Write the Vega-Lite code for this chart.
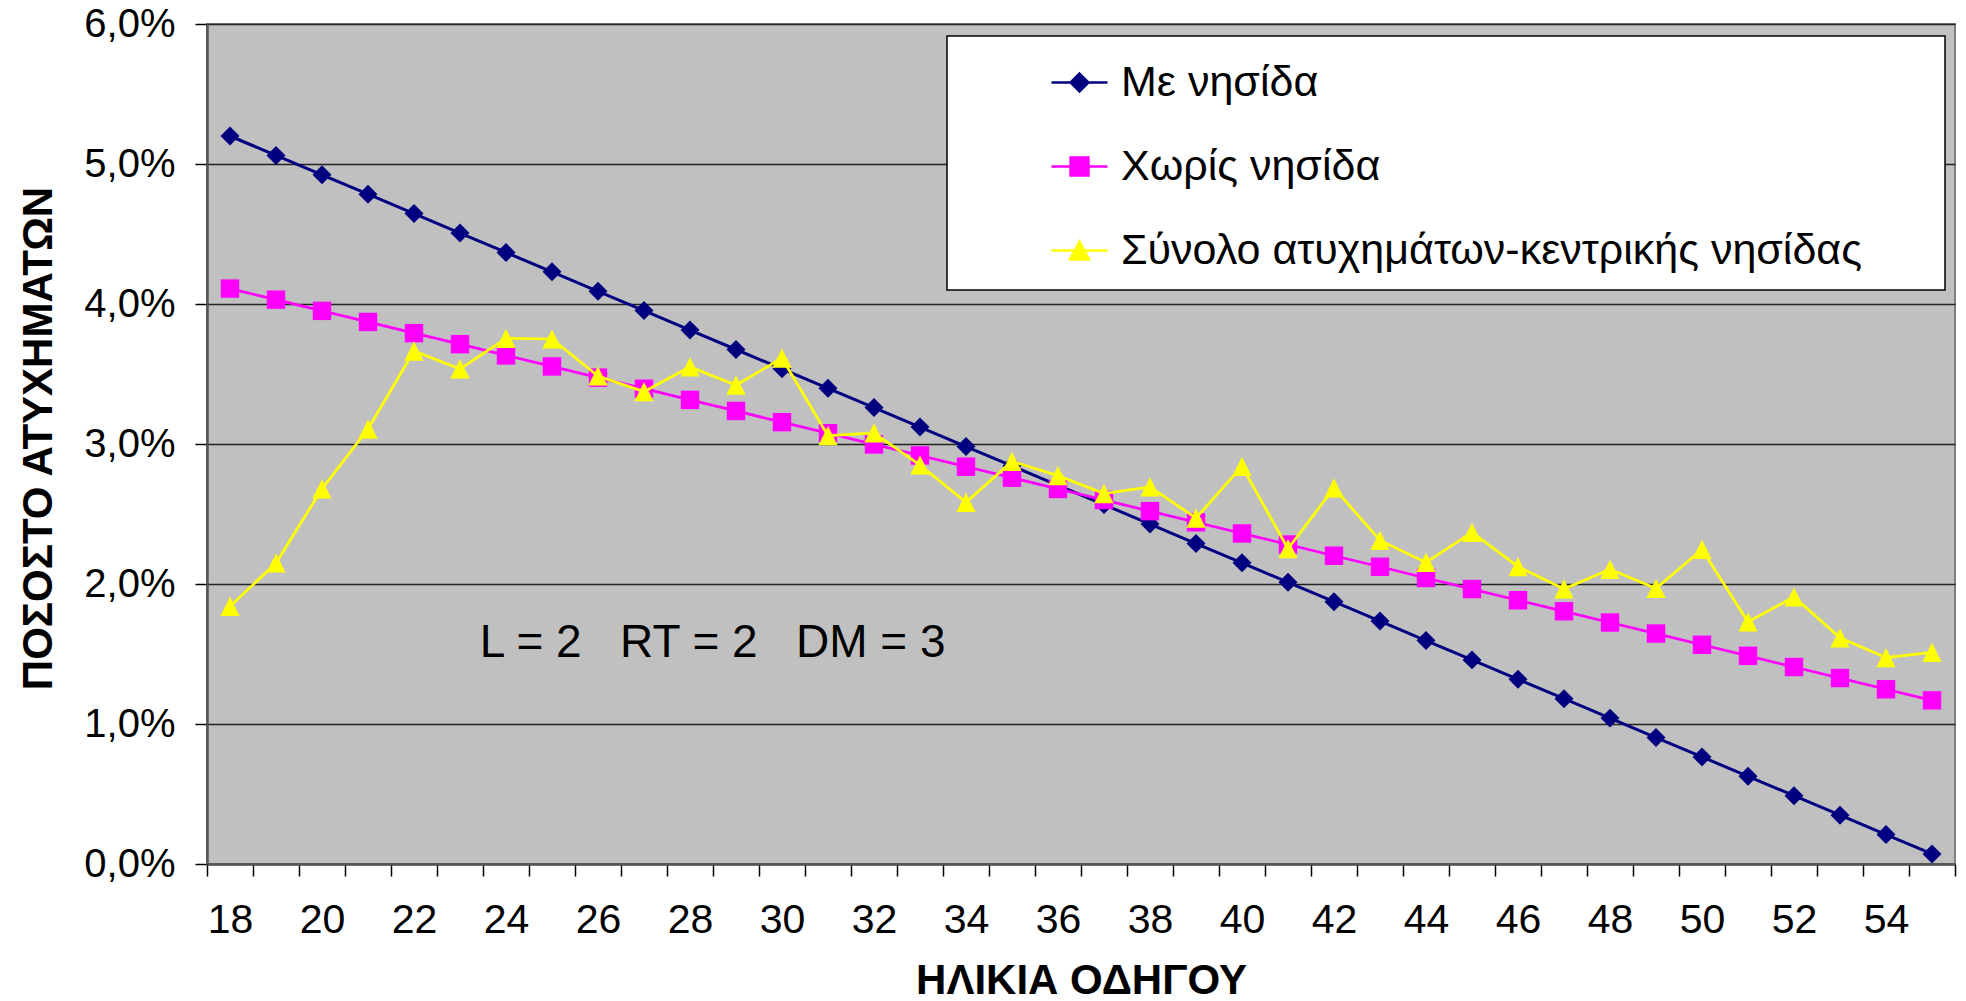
{
  "$schema": "https://vega.github.io/schema/vega-lite/v6.json",
  "autosize": {"type": "none"},
  "padding": {"left": 207, "top": 24, "right": 11, "bottom": 137},
  "width": 1748,
  "height": 840,
  "background": "white",
  "config": {
    "view": {"fill": "#C0C0C0", "stroke": "#808080", "strokeWidth": 2},
    "font": "Liberation Sans"
  },
  "datasets": {
    "d": [
      {"age":18,"series":"Με νησίδα","pct":0.05200},{"age":19,"series":"Με νησίδα","pct":0.05061},{"age":20,"series":"Με νησίδα","pct":0.04923},{"age":21,"series":"Με νησίδα","pct":0.04784},{"age":22,"series":"Με νησίδα","pct":0.04646},{"age":23,"series":"Με νησίδα","pct":0.04507},{"age":24,"series":"Με νησίδα","pct":0.04368},{"age":25,"series":"Με νησίδα","pct":0.04230},{"age":26,"series":"Με νησίδα","pct":0.04091},{"age":27,"series":"Με νησίδα","pct":0.03953},{"age":28,"series":"Με νησίδα","pct":0.03814},{"age":29,"series":"Με νησίδα","pct":0.03675},{"age":30,"series":"Με νησίδα","pct":0.03537},{"age":31,"series":"Με νησίδα","pct":0.03398},{"age":32,"series":"Με νησίδα","pct":0.03260},{"age":33,"series":"Με νησίδα","pct":0.03121},{"age":34,"series":"Με νησίδα","pct":0.02982},{"age":35,"series":"Με νησίδα","pct":0.02844},{"age":36,"series":"Με νησίδα","pct":0.02705},{"age":37,"series":"Με νησίδα","pct":0.02567},{"age":38,"series":"Με νησίδα","pct":0.02428},{"age":39,"series":"Με νησίδα","pct":0.02289},{"age":40,"series":"Με νησίδα","pct":0.02151},{"age":41,"series":"Με νησίδα","pct":0.02012},{"age":42,"series":"Με νησίδα","pct":0.01874},{"age":43,"series":"Με νησίδα","pct":0.01735},{"age":44,"series":"Με νησίδα","pct":0.01596},{"age":45,"series":"Με νησίδα","pct":0.01458},{"age":46,"series":"Με νησίδα","pct":0.01319},{"age":47,"series":"Με νησίδα","pct":0.01181},{"age":48,"series":"Με νησίδα","pct":0.01042},{"age":49,"series":"Με νησίδα","pct":0.00903},{"age":50,"series":"Με νησίδα","pct":0.00765},{"age":51,"series":"Με νησίδα","pct":0.00626},{"age":52,"series":"Με νησίδα","pct":0.00488},{"age":53,"series":"Με νησίδα","pct":0.00349},{"age":54,"series":"Με νησίδα","pct":0.00210},{"age":55,"series":"Με νησίδα","pct":0.00072},
      {"age":18,"series":"Χωρίς νησίδα","pct":0.04110},{"age":19,"series":"Χωρίς νησίδα","pct":0.04031},{"age":20,"series":"Χωρίς νησίδα","pct":0.03951},{"age":21,"series":"Χωρίς νησίδα","pct":0.03872},{"age":22,"series":"Χωρίς νησίδα","pct":0.03792},{"age":23,"series":"Χωρίς νησίδα","pct":0.03713},{"age":24,"series":"Χωρίς νησίδα","pct":0.03633},{"age":25,"series":"Χωρίς νησίδα","pct":0.03554},{"age":26,"series":"Χωρίς νησίδα","pct":0.03474},{"age":27,"series":"Χωρίς νησίδα","pct":0.03395},{"age":28,"series":"Χωρίς νησίδα","pct":0.03315},{"age":29,"series":"Χωρίς νησίδα","pct":0.03236},{"age":30,"series":"Χωρίς νησίδα","pct":0.03156},{"age":31,"series":"Χωρίς νησίδα","pct":0.03077},{"age":32,"series":"Χωρίς νησίδα","pct":0.02997},{"age":33,"series":"Χωρίς νησίδα","pct":0.02918},{"age":34,"series":"Χωρίς νησίδα","pct":0.02838},{"age":35,"series":"Χωρίς νησίδα","pct":0.02759},{"age":36,"series":"Χωρίς νησίδα","pct":0.02679},{"age":37,"series":"Χωρίς νησίδα","pct":0.02600},{"age":38,"series":"Χωρίς νησίδα","pct":0.02520},{"age":39,"series":"Χωρίς νησίδα","pct":0.02441},{"age":40,"series":"Χωρίς νησίδα","pct":0.02361},{"age":41,"series":"Χωρίς νησίδα","pct":0.02282},{"age":42,"series":"Χωρίς νησίδα","pct":0.02202},{"age":43,"series":"Χωρίς νησίδα","pct":0.02123},{"age":44,"series":"Χωρίς νησίδα","pct":0.02043},{"age":45,"series":"Χωρίς νησίδα","pct":0.01964},{"age":46,"series":"Χωρίς νησίδα","pct":0.01884},{"age":47,"series":"Χωρίς νησίδα","pct":0.01805},{"age":48,"series":"Χωρίς νησίδα","pct":0.01725},{"age":49,"series":"Χωρίς νησίδα","pct":0.01646},{"age":50,"series":"Χωρίς νησίδα","pct":0.01566},{"age":51,"series":"Χωρίς νησίδα","pct":0.01487},{"age":52,"series":"Χωρίς νησίδα","pct":0.01407},{"age":53,"series":"Χωρίς νησίδα","pct":0.01328},{"age":54,"series":"Χωρίς νησίδα","pct":0.01248},{"age":55,"series":"Χωρίς νησίδα","pct":0.01169},
      {"age":18,"series":"Σύνολο ατυχημάτων-κεντρικής νησίδας","pct":0.01840},{"age":19,"series":"Σύνολο ατυχημάτων-κεντρικής νησίδας","pct":0.02150},{"age":20,"series":"Σύνολο ατυχημάτων-κεντρικής νησίδας","pct":0.02680},{"age":21,"series":"Σύνολο ατυχημάτων-κεντρικής νησίδας","pct":0.03107},{"age":22,"series":"Σύνολο ατυχημάτων-κεντρικής νησίδας","pct":0.03664},{"age":23,"series":"Σύνολο ατυχημάτων-κεντρικής νησίδας","pct":0.03536},{"age":24,"series":"Σύνολο ατυχημάτων-κεντρικής νησίδας","pct":0.03754},{"age":25,"series":"Σύνολο ατυχημάτων-κεντρικής νησίδας","pct":0.03750},{"age":26,"series":"Σύνολο ατυχημάτων-κεντρικής νησίδας","pct":0.03486},{"age":27,"series":"Σύνολο ατυχημάτων-κεντρικής νησίδας","pct":0.03374},{"age":28,"series":"Σύνολο ατυχημάτων-κεντρικής νησίδας","pct":0.03551},{"age":29,"series":"Σύνολο ατυχημάτων-κεντρικής νησίδας","pct":0.03420},{"age":30,"series":"Σύνολο ατυχημάτων-κεντρικής νησίδας","pct":0.03613},{"age":31,"series":"Σύνολο ατυχημάτων-κεντρικής νησίδας","pct":0.03059},{"age":32,"series":"Σύνολο ατυχημάτων-κεντρικής νησίδας","pct":0.03079},{"age":33,"series":"Σύνολο ατυχημάτων-κεντρικής νησίδας","pct":0.02850},{"age":34,"series":"Σύνολο ατυχημάτων-κεντρικής νησίδας","pct":0.02583},{"age":35,"series":"Σύνολο ατυχημάτων-κεντρικής νησίδας","pct":0.02876},{"age":36,"series":"Σύνολο ατυχημάτων-κεντρικής νησίδας","pct":0.02774},{"age":37,"series":"Σύνολο ατυχημάτων-κεντρικής νησίδας","pct":0.02646},{"age":38,"series":"Σύνολο ατυχημάτων-κεντρικής νησίδας","pct":0.02693},{"age":39,"series":"Σύνολο ατυχημάτων-κεντρικής νησίδας","pct":0.02471},{"age":40,"series":"Σύνολο ατυχημάτων-κεντρικής νησίδας","pct":0.02840},{"age":41,"series":"Σύνολο ατυχημάτων-κεντρικής νησίδας","pct":0.02252},{"age":42,"series":"Σύνολο ατυχημάτων-κεντρικής νησίδας","pct":0.02686},{"age":43,"series":"Σύνολο ατυχημάτων-κεντρικής νησίδας","pct":0.02311},{"age":44,"series":"Σύνολο ατυχημάτων-κεντρικής νησίδας","pct":0.02154},{"age":45,"series":"Σύνολο ατυχημάτων-κεντρικής νησίδας","pct":0.02369},{"age":46,"series":"Σύνολο ατυχημάτων-κεντρικής νησίδας","pct":0.02124},{"age":47,"series":"Σύνολο ατυχημάτων-κεντρικής νησίδας","pct":0.01965},{"age":48,"series":"Σύνολο ατυχημάτων-κεντρικής νησίδας","pct":0.02105},{"age":49,"series":"Σύνολο ατυχημάτων-κεντρικής νησίδας","pct":0.01968},{"age":50,"series":"Σύνολο ατυχημάτων-κεντρικής νησίδας","pct":0.02247},{"age":51,"series":"Σύνολο ατυχημάτων-κεντρικής νησίδας","pct":0.01729},{"age":52,"series":"Σύνολο ατυχημάτων-κεντρικής νησίδας","pct":0.01908},{"age":53,"series":"Σύνολο ατυχημάτων-κεντρικής νησίδας","pct":0.01616},{"age":54,"series":"Σύνολο ατυχημάτων-κεντρικής νησίδας","pct":0.01474},{"age":55,"series":"Σύνολο ατυχημάτων-κεντρικής νησίδας","pct":0.01512}
    ],
    "ann": [
      {"age": 23.43, "pct": 0.01479, "label": "L = 2\u00a0\u00a0\u00a0RT = 2\u00a0\u00a0\u00a0DM = 3"}
    ]
  },
  "data": {"name": "d"},
  "encoding": {
    "x": {
      "field": "age", "type": "quantitative",
      "scale": {"domain": [17.5, 55.5], "nice": false, "zero": false},
      "axis": {
        "values": [17.5,18.5,19.5,20.5,21.5,22.5,23.5,24.5,25.5,26.5,27.5,28.5,29.5,30.5,31.5,32.5,33.5,34.5,35.5,36.5,37.5,38.5,39.5,40.5,41.5,42.5,43.5,44.5,45.5,46.5,47.5,48.5,49.5,50.5,51.5,52.5,53.5,54.5,55.5],
        "labelExpr": "((datum.value + 0.5) % 2 === 0 && datum.value < 55) ? format(datum.value + 0.5, 'd') : ''",
        "labelOffset": 23,
        "labelFlush": false,
        "labelOverlap": false,
        "labelBound": false,
        "labelFont": "Liberation Sans",
        "labelFontSize": 41,
        "labelColor": "black",
        "labelPadding": 24,
        "tickSize": 12,
        "tickColor": "black",
        "tickWidth": 1.5,
        "domainColor": "#555555",
        "domainWidth": 2.5,
        "grid": false,
        "title": "ΗΛΙΚΙΑ ΟΔΗΓΟΥ",
        "titleFont": "Liberation Sans",
        "titleFontSize": 42,
        "titleFontWeight": "bold",
        "titleColor": "black",
        "titleBaseline": "middle",
        "titleY": 116
      }
    },
    "y": {
      "field": "pct", "type": "quantitative",
      "scale": {"domain": [0, 0.06], "nice": false, "zero": true},
      "axis": {
        "values": [0, 0.01, 0.02, 0.03, 0.04, 0.05, 0.06],
        "labelExpr": "replace(format(datum.value, '.1%'), '.', ',')",
        "labelFont": "Liberation Sans",
        "labelFontSize": 40,
        "labelColor": "black",
        "labelPadding": 20,
        "tickSize": 12,
        "tickColor": "black",
        "tickWidth": 1.5,
        "domainColor": "#555555",
        "domainWidth": 2.5,
        "grid": true,
        "gridColor": "#222222",
        "gridWidth": 1.5,
        "title": "ΠΟΣΟΣΤΟ ΑΤΥΧΗΜΑΤΩΝ",
        "titleFont": "Liberation Sans",
        "titleFontSize": 42,
        "titleFontWeight": "bold",
        "titleColor": "black",
        "titleAlign": "center",
        "titleBaseline": "middle",
        "titleAngle": 270,
        "titleX": -169,
        "titleY": 414
      }
    }
  },
  "layer": [
    {
      "transform": [{"filter": "datum.series === 'Με νησίδα'"}],
      "mark": {"type": "line", "strokeWidth": 3, "point": {"shape": "diamond", "size": 360, "filled": true, "opacity": 1}},
      "encoding": {
        "color": {
          "field": "series", "type": "nominal",
          "scale": {"domain": ["Με νησίδα", "Χωρίς νησίδα", "Σύνολο ατυχημάτων-κεντρικής νησίδας"], "range": ["#000080", "#FF00FF", "#FFFF00"]},
          "legend": {
            "title": "\u00a0",
            "titleOrient": "right",
            "titleFontSize": 2,
            "titlePadding": 66,
            "orient": "none",
            "legendX": 740,
            "legendY": 12,
            "fillColor": "white",
            "strokeColor": "black",
            "padding": 17,
            "symbolOffset": 86,
            "labelOffset": 12,
            "rowPadding": 32,
            "labelFont": "Liberation Sans",
            "labelFontSize": 43,
            "labelColor": "black",
            "labelLimit": 2000,
            "symbolSize": 3136,
            "symbolStrokeWidth": 2.5,
            "encode": {
              "legend": {"update": {"strokeWidth": {"value": 1.5}}},
              "symbols": {
                "update": {
                  "shape": {"signal": "datum.value === 'Με νησίδα' ? 'M-1,0H1M0,-0.32L0.32,0L0,0.32L-0.32,0Z' : (datum.value === 'Χωρίς νησίδα' ? 'M-1,0H1M-0.32,-0.32H0.32V0.32H-0.32Z' : 'M-1,0H1M0,-0.32L0.34,0.32H-0.34Z')"},
                  "fill": {"scale": "color", "field": "value"},
                  "stroke": {"scale": "color", "field": "value"},
                  "fillOpacity": {"value": 1},
                  "strokeWidth": {"value": 2.5}
                }
              }
            }
          }
        }
      }
    },
    {
      "transform": [{"filter": "datum.series === 'Χωρίς νησίδα'"}],
      "mark": {"type": "line", "strokeWidth": 2.75, "point": {"shape": "square", "size": 340, "filled": true, "opacity": 1}},
      "encoding": {
        "color": {
          "field": "series", "type": "nominal",
          "scale": {"domain": ["Με νησίδα", "Χωρίς νησίδα", "Σύνολο ατυχημάτων-κεντρικής νησίδας"], "range": ["#000080", "#FF00FF", "#FFFF00"]}
        }
      }
    },
    {
      "transform": [{"filter": "datum.series === 'Σύνολο ατυχημάτων-κεντρικής νησίδας'"}],
      "mark": {"type": "line", "strokeWidth": 2.75, "point": {"shape": "M0,-1L1,1L-1,1Z", "size": 370, "filled": true, "opacity": 1}},
      "encoding": {
        "color": {
          "field": "series", "type": "nominal",
          "scale": {"domain": ["Με νησίδα", "Χωρίς νησίδα", "Σύνολο ατυχημάτων-κεντρικής νησίδας"], "range": ["#000080", "#FF00FF", "#FFFF00"]}
        }
      }
    },
    {
      "data": {"name": "ann"},
      "mark": {"type": "text", "align": "left", "baseline": "alphabetic", "font": "Liberation Sans", "fontSize": 46, "color": "black"},
      "encoding": {"text": {"field": "label"}}
    }
  ]
}
